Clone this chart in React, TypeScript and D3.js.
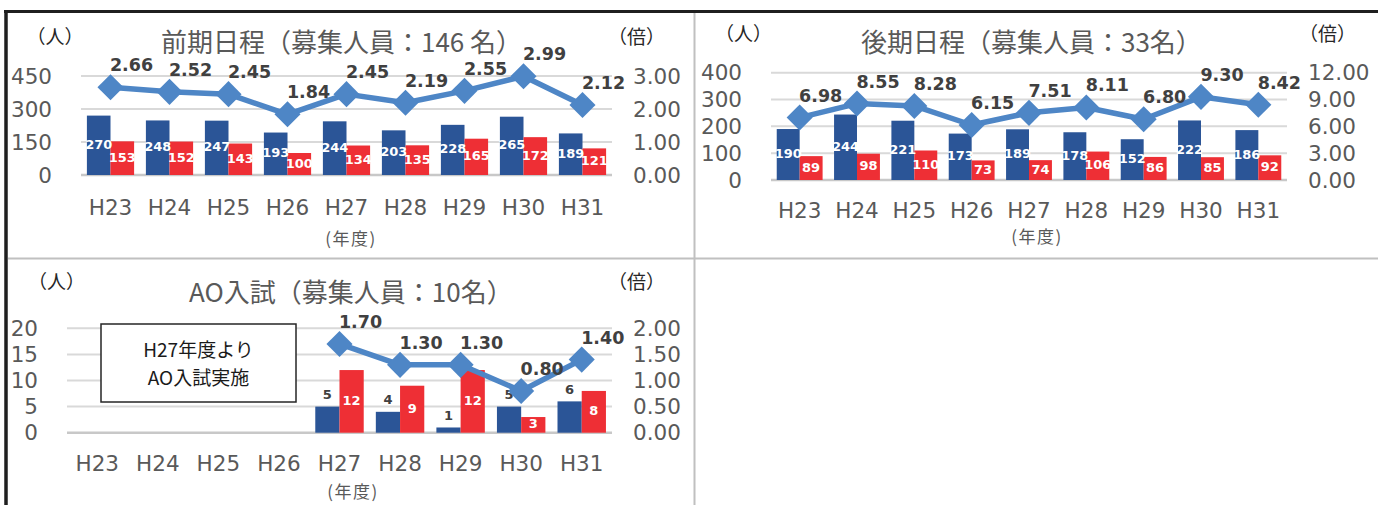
import React from 'react';
import * as d3 from 'd3';

// 年度
const years = ['H23', 'H24', 'H25', 'H26', 'H27', 'H28', 'H29', 'H30', 'H31'];

// 前期日程
const frontBlue = [270, 248, 247, 193, 244, 203, 228, 265, 189];
const frontRed = [153, 152, 143, 100, 134, 135, 165, 172, 121];
const frontRatio = [2.66, 2.52, 2.45, 1.84, 2.45, 2.19, 2.55, 2.99, 2.12];
const frontLeftTicks = [0, 150, 300, 450];
const frontRightTicks = [0, 1, 2, 3];

// 後期日程
const backBlue = [190, 244, 221, 173, 189, 178, 152, 222, 186];
const backRed = [89, 98, 110, 73, 74, 106, 86, 85, 92];
const backRatio = [6.98, 8.55, 8.28, 6.15, 7.51, 8.11, 6.8, 9.3, 8.42];
const backLeftTicks = [0, 100, 200, 300, 400];
const backRightTicks = [0, 3, 6, 9, 12];

// AO入試 (H27〜)
const aoBlue = [null, null, null, null, 5, 4, 1, 5, 6];
const aoRed = [null, null, null, null, 12, 9, 12, 3, 8];
const aoRatio = [null, null, null, null, 1.7, 1.3, 1.3, 0.8, 1.4];
const aoLeftTicks = [0, 5, 10, 15, 20];
const aoRightTicks = [0, 0.5, 1, 1.5, 2];

const BLUE = '#2B5597';
const RED = '#EE2F35';
const LINE = '#4E86C6';
const GRID = '#D9D9D9';
const TICK = '#595959';
const LABEL = '#404040';
const JP = '"Noto Sans CJK JP", sans-serif';
const NUM = '"DejaVu Sans", Verdana, sans-serif';

type Val = number | null;

interface Layout {
  left: number;
  right: number;
  y0: number;
  yTop: number;
  leftTickX: number;
  rightTickX: number;
  xLabelY: number;
  yearX: number;
  yearY: number;
  titleX: number;
  titleY: number;
  unitY: number;
  personX: number;
  ratioX: number;
}

interface PanelProps {
  title: string;
  blue: Val[];
  red: Val[];
  ratio: Val[];
  leftTicks: number[];
  rightTicks: number[];
  layout: Layout;
  blueLabelsAbove?: boolean;
}

const diamond = d3.symbol(d3.symbolSquare, 340)() as string;

const Panel: React.FC<PanelProps> = ({ title, blue, red, ratio, leftTicks, rightTicks, layout: L, blueLabelsAbove }) => {
  const x = d3.scaleBand().domain(years).range([L.left, L.right]).paddingInner(0.2).paddingOuter(0.1);
  const sub = d3.scaleBand().domain(['blue', 'red']).range([0, x.bandwidth()]);
  const yL = d3.scaleLinear().domain([0, d3.max(leftTicks)!]).range([L.y0, L.yTop]);
  const yR = d3.scaleLinear().domain([0, d3.max(rightTicks)!]).range([L.y0, L.yTop]);
  const cx = (i: number) => x(years[i])! + x.bandwidth() / 2;
  const fmt = d3.format('.2f');

  const line = d3.line<Val>()
    .defined(d => d != null)
    .x((d, i) => cx(i))
    .y(d => yR(d as number));

  const bars = (vals: Val[], key: 'blue' | 'red', color: string) =>
    vals.map((v, i) => v == null ? null : (
      <rect key={key + i} x={x(years[i])! + sub(key)!} y={yL(v)} width={sub.bandwidth()}
        height={L.y0 - yL(v)} fill={color} />
    ));

  const barLabels = (vals: Val[], key: 'blue' | 'red', above: boolean) =>
    vals.map((v, i) => v == null ? null : (
      <text key={key + 't' + i} x={x(years[i])! + sub(key)! + sub.bandwidth() / 2}
        y={above ? yL(v) - 12 : (yL(v) + L.y0) / 2 - 1} dominantBaseline="central" textAnchor="middle"
        fontFamily={NUM} fontWeight="bold" fontSize={13} fill={above ? LABEL : '#fff'}>{v}</text>
    ));

  return (
    <g>
      {leftTicks.map(t => (
        <line key={'g' + t} x1={L.left} x2={L.right} y1={yL(t)} y2={yL(t)}
          stroke={t === 0 ? '#C8C8C8' : GRID} strokeWidth={t === 0 ? 2.5 : 2} />
      ))}
      {leftTicks.map(t => (
        <text key={'l' + t} x={L.leftTickX} y={yL(t)} textAnchor="end" dominantBaseline="central"
          fontFamily={NUM} fontSize={21.5} fill={TICK}>{t}</text>
      ))}
      {rightTicks.map(t => (
        <text key={'r' + t} x={L.rightTickX} y={yR(t)} textAnchor="start" dominantBaseline="central"
          fontFamily={NUM} fontSize={21.5} fill={TICK}>{fmt(t)}</text>
      ))}
      {years.map((yr, i) => (
        <text key={yr} x={cx(i)} y={L.xLabelY} textAnchor="middle" dominantBaseline="central"
          fontFamily={NUM} fontSize={21.5} fill={TICK}>{yr}</text>
      ))}
      <text x={L.yearX} y={L.yearY} textAnchor="middle" dominantBaseline="central"
        fontFamily={JP} fontSize={17} letterSpacing={1.5} fill={TICK}>(年度)</text>
      <text x={L.titleX} y={L.titleY} dominantBaseline="central" fontFamily={JP} fontSize={26} fill={TICK}>{title}</text>
      <text x={L.personX} y={L.unitY} textAnchor="middle" dominantBaseline="central" fontFamily={JP} fontSize={19} fill="#262626">（人）</text>
      <text x={L.ratioX} y={L.unitY} textAnchor="middle" dominantBaseline="central" fontFamily={JP} fontSize={19} fill="#262626">（倍）</text>

      {bars(blue, 'blue', BLUE)}
      {bars(red, 'red', RED)}
      {barLabels(blue, 'blue', !!blueLabelsAbove)}
      {barLabels(red, 'red', false)}

      <path d={line(ratio) ?? ''} fill="none" stroke={LINE} strokeWidth={5.5} strokeLinejoin="round" />
      {ratio.map((r, i) => r == null ? null : (
        <path key={'m' + i} d={diamond} transform={`translate(${cx(i)},${yR(r)}) rotate(45)`} fill={LINE} />
      ))}
      {ratio.map((r, i) => r == null ? null : (
        <text key={'rl' + i} x={cx(i) + 21} y={yR(r) - 22} textAnchor="middle" dominantBaseline="central"
          fontFamily={NUM} fontWeight="bold" fontSize={17.5} fill={LABEL}>{fmt(r)}</text>
      ))}
    </g>
  );
};

const App: React.FC = () => (
  <svg width={1378} height={505} style={{ position: 'absolute', left: 0, top: 0, background: '#fff' }}>
    <rect width={1378} height={505} fill="#fff" />
    {/* cell dividers */}
    <line x1={694.5} x2={694.5} y1={12} y2={505} stroke="#C0C0C0" strokeWidth={2} />
    <line x1={8} x2={1378} y1={258.5} y2={258.5} stroke="#C0C0C0" strokeWidth={2} />
    {/* outer frame */}
    <line x1={4} x2={1378} y1={11.5} y2={11.5} stroke="#1F1F1F" strokeWidth={3} />
    <line x1={6} x2={6} y1={10} y2={505} stroke="#1F1F1F" strokeWidth={3.5} />

    <Panel title="前期日程（募集人員：146 名）" blue={frontBlue} red={frontRed} ratio={frontRatio}
      leftTicks={frontLeftTicks} rightTicks={frontRightTicks}
      layout={{ left: 81, right: 612, y0: 175, yTop: 76, leftTickX: 52, rightTickX: 633, xLabelY: 207,
        yearX: 351, yearY: 237, titleX: 161, titleY: 40, unitY: 35, personX: 55, ratioX: 636.5 }} />

    <Panel title="後期日程（募集人員：33名）" blue={backBlue} red={backRed} ratio={backRatio}
      leftTicks={backLeftTicks} rightTicks={backRightTicks}
      layout={{ left: 771, right: 1287, y0: 180, yTop: 72.7, leftTickX: 742, rightTickX: 1308, xLabelY: 210,
        yearX: 1037, yearY: 235, titleX: 861, titleY: 40, unitY: 32, personX: 743.5, ratioX: 1327.5 }} />

    <Panel title="AO入試（募集人員：10名）" blue={aoBlue} red={aoRed} ratio={aoRatio}
      leftTicks={aoLeftTicks} rightTicks={aoRightTicks} blueLabelsAbove
      layout={{ left: 67, right: 612, y0: 432.7, yTop: 328.3, leftTickX: 38, rightTickX: 633, xLabelY: 463,
        yearX: 353, yearY: 490, titleX: 189, titleY: 290, unitY: 280, personX: 56.5, ratioX: 636.5 }} />

    <g>
      <rect x={101} y={324} width={195} height={78} fill="#fff" stroke="#262626" strokeWidth={1.5} />
      <text x={198.5} y={348} textAnchor="middle" dominantBaseline="central" fontFamily={JP} fontSize={19} fill="#1A1A1A">H27年度より</text>
      <text x={198.5} y={376} textAnchor="middle" dominantBaseline="central" fontFamily={JP} fontSize={19} fill="#1A1A1A">AO入試実施</text>
    </g>
  </svg>
);

export default App;
